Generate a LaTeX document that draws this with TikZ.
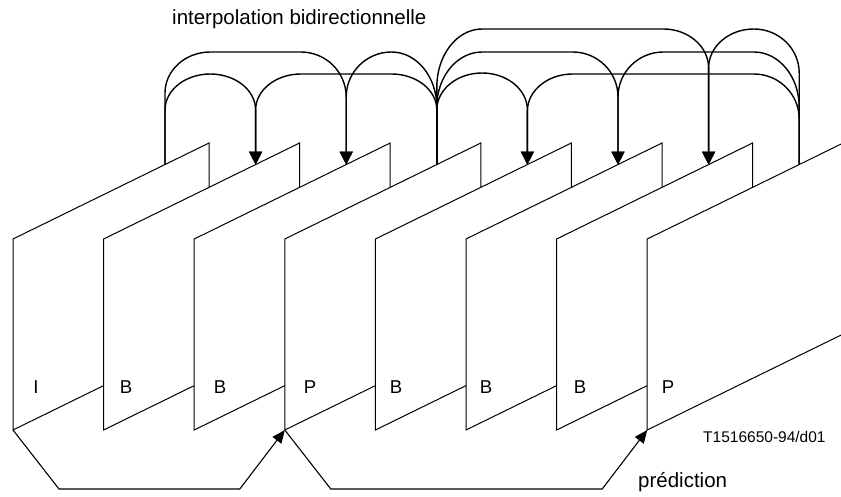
\documentclass[tikz,border=0pt]{standalone}
\usepackage{fontspec}
\setmainfont{Liberation Sans}
\usetikzlibrary{arrows.meta}
\begin{document}
\begin{tikzpicture}[x=1pt,y=-1pt,
  frame/.style={draw=black,fill=white,line width=1pt,line join=miter},
  link/.style={draw=black,line width=1.4pt,-{Triangle[length=13pt,width=13pt]}},
  pred/.style={draw=black,line width=1.1pt,-{Triangle[length=13pt,width=11pt]}},
  lab/.style={font=\fontsize{18.6}{20}\selectfont,anchor=base,inner sep=0pt},
  txt/.style={font=\fontsize{20.5}{22}\selectfont,anchor=base west,inner sep=0pt},
  upR/.style={insert path={arc[start angle=180,end angle=270,x radius=45.3,y radius=#1]}},
  dnR/.style={insert path={arc[start angle=270,end angle=360,x radius=45.3,y radius=#1]}},
  upL/.style={insert path={arc[start angle=0,end angle=-90,x radius=45.3,y radius=#1]}},
  dnL/.style={insert path={arc[start angle=-90,end angle=-180,x radius=45.3,y radius=#1]}}]
\useasboundingbox (0,0) rectangle (841,497);
\fill[white] (0,0) rectangle (841,497);
% frames
\foreach \i in {0,...,7}{
  \pgfmathsetmacro\L{13+90.6*\i}
  \draw[frame] (\L,239) -- (\L+196,143) -- (\L+196,334) -- (\L,430) -- cycle;
  \coordinate (tp\i) at (\L+152,164.6);
  \coordinate (bl\i) at (\L,430);
}
% labels
\node[lab] (l0) at (36,393) {I};
\node[lab] (l1) at (126,393) {B};
\node[lab] (l2) at (220,393) {B};
\node[lab] (l3) at (310,393) {P};
\node[lab] (l4) at (396,393) {B};
\node[lab] (l5) at (486,393) {B};
\node[lab] (l6) at (580,393) {B};
\node[lab] (l7) at (668,393) {P};
% interpolation links, left group
\draw[link] (tp0) -- (tp0 |- 0,110) [upR=36] [dnR=36] -- (tp1);
\draw[link] (tp0) -- (tp0 |- 0,93) [upR=41] -- ++(90.6,0) [dnR=45] -- (tp2);
\draw[link] (tp3) -- (tp3 |- 0,107) [upL=55] [dnL=45] -- (tp2);
\draw[link] (tp3) -- (tp3 |- 0,110) [upL=36] -- ++(-90.6,0) [dnL=36] -- (tp1);
% interpolation links, right group
\draw[link] (tp3) -- (tp3 |- 0,110) [upR=37] [dnR=37] -- (tp4);
\draw[link] (tp7) -- (tp7 |- 0,119) [upL=45] -- ++(-181.2,0) [dnL=37] -- (tp4);
\draw[link] (tp3) -- (tp3 |- 0,107) [upR=55] -- ++(90.6,0) [dnR=45] -- (tp5);
\draw[link] (tp7) -- (tp7 |- 0,107) [upL=55] -- ++(-90.6,0) [dnL=45] -- (tp5);
\draw[link] (tp3) -- (tp3 |- 0,87) [upR=58] -- ++(181.2,0) [dnR=39] -- (tp6);
\draw[link] (tp7) -- (tp7 |- 0,73) [upL=44] [dnL=39] -- (tp6);
% prediction links
\draw[pred] (bl0) -- ++(46,59) -- ([xshift=-45pt]bl3 |- 0,489) -- (bl3);
\draw[pred] (bl3) -- ++(46,59) -- ([xshift=-45pt]bl7 |- 0,489) -- (bl7);
% texts
\node[txt] (title) at (172,25) {interpolation bidirectionnelle};
\node[txt] (predtext) at (638,487) {prédiction};
\node[txt,font=\fontsize{15.5}{17}\selectfont] (code) at (703,442) {T1516650-94/d01};
\end{tikzpicture}
\end{document}
